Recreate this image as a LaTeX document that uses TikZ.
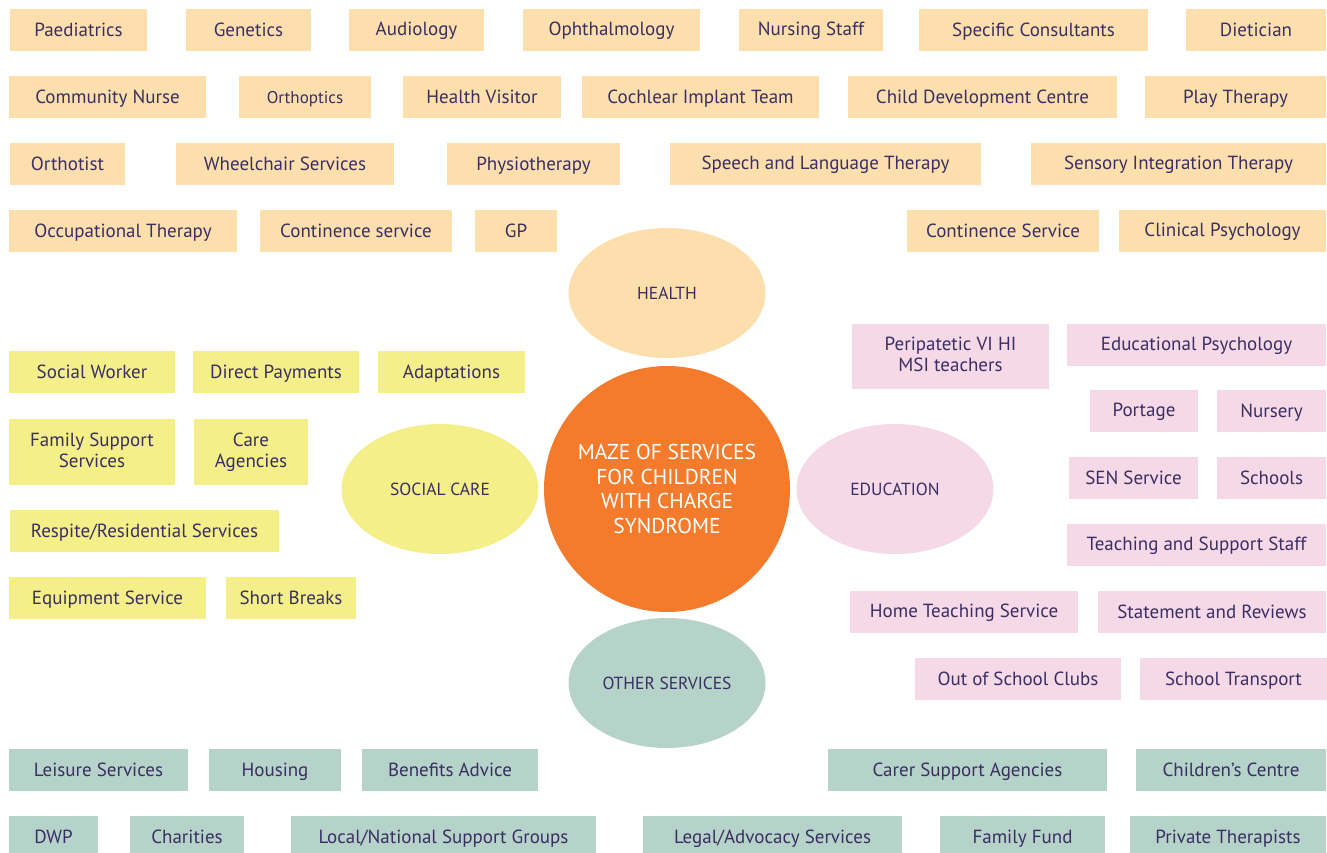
\documentclass[tikz,border=0pt]{standalone}
\usepackage{fontspec}
\setmainfont{PT Sans}
\usetikzlibrary{shapes.geometric}

\definecolor{ink}{HTML}{3A2E63}
\definecolor{healthc}{HTML}{FDDFAD}
\definecolor{socialc}{HTML}{F4EF88}
\definecolor{educc}{HTML}{F6D9E7}
\definecolor{otherc}{HTML}{B5D3C9}
\definecolor{hubc}{HTML}{F47B2B}

% fixed line height so every label sits at the same level in its box
\newcommand{\tagstrutA}{\rule[0pt]{0pt}{16pt}}
\newcommand{\tagstrutB}{\rule[-4pt]{0pt}{4pt}}

\tikzset{
  tag/.style={rectangle, inner sep=0pt, text=ink, align=center,
    font=\fontsize{19}{21}\selectfont,
    execute at begin node=\tagstrutA, execute at end node=\tagstrutB},
  healthbox/.style={tag, fill=healthc},
  socialbox/.style={tag, fill=socialc},
  educbox/.style={tag, fill=educc},
  otherbox/.style={tag, fill=otherc},
  sector/.style={ellipse, inner sep=0pt, minimum width=197pt, minimum height=130pt,
    text=ink, font=\fontsize{17.5}{20}\selectfont},
  hub/.style={circle, inner sep=0pt, minimum size=246pt, fill=hubc, text=white,
    align=center, font=\fontsize{21.5}{24.5}\selectfont}
}

% style, name, left, top, right, bottom, text
\newcommand{\tagbox}[7]{%
  \node[#1, minimum width={(#5-#3)*1pt}, minimum height={(#6-#4)*1pt}]
    (#2) at ({(#3+#5)/2},{(#4+#6)/2}) {#7};}

\begin{document}
\begin{tikzpicture}[x=1pt,y=-1pt]
\useasboundingbox (0,0) rectangle (1327,852);

% ---- Health ----
\tagbox{healthbox}{paed}{10}{9}{147}{51}{Paediatrics}
\tagbox{healthbox}{gen}{186}{9}{311}{51}{Genetics}
\tagbox{healthbox}{aud}{349}{9}{484}{51}{Audiology}
\tagbox{healthbox}{oph}{523}{9}{700}{51}{Ophthalmology}
\tagbox{healthbox}{nurs}{739}{9}{883}{51}{Nursing Staff}
\tagbox{healthbox}{cons}{919}{9}{1148}{51}{Specific Consultants}
\tagbox{healthbox}{diet}{1186}{9}{1326}{51}{Dietician}

\tagbox{healthbox}{cnurse}{9}{76}{206}{118}{Community Nurse}
\tagbox{healthbox}{orthop}{239}{76}{371}{118}{\fontsize{17}{21}\selectfont Orthoptics}
\tagbox{healthbox}{hv}{403}{76}{561}{118}{Health Visitor}
\tagbox{healthbox}{cit}{582}{76}{819}{118}{Cochlear Implant Team}
\tagbox{healthbox}{cdc}{848}{76}{1117}{118}{Child Development Centre}
\tagbox{healthbox}{play}{1145}{76}{1326}{118}{Play Therapy}

\tagbox{healthbox}{orthot}{10}{143}{125}{185}{Orthotist}
\tagbox{healthbox}{wheel}{176}{143}{394}{185}{Wheelchair Services}
\tagbox{healthbox}{physio}{447}{143}{620}{185}{Physiotherapy}
\tagbox{healthbox}{salt}{670}{143}{981}{185}{Speech and Language Therapy}
\tagbox{healthbox}{sit}{1031}{143}{1326}{185}{Sensory Integration Therapy}

\tagbox{healthbox}{ot}{9}{210}{237}{252}{Occupational Therapy}
\tagbox{healthbox}{cont}{260}{210}{452}{252}{Continence service}
\tagbox{healthbox}{gp}{475}{210}{557}{252}{GP}
\tagbox{healthbox}{cont2}{907}{210}{1099}{252}{Continence Service}
\tagbox{healthbox}{clin}{1119}{210}{1326}{252}{Clinical Psychology}

% ---- Social care ----
\tagbox{socialbox}{sw}{9}{351}{175}{393}{Social Worker}
\tagbox{socialbox}{dp}{193}{351}{359}{393}{Direct Payments}
\tagbox{socialbox}{adapt}{378}{351}{525}{393}{Adaptations}
\tagbox{socialbox}{fss}{9}{419}{175}{485}{Family Support\\Services}
\tagbox{socialbox}{care}{194}{419}{308}{485}{Care\\Agencies}
\tagbox{socialbox}{resp}{10}{510}{279}{552}{Respite/Residential Services}
\tagbox{socialbox}{equip}{9}{577}{206}{619}{Equipment Service}
\tagbox{socialbox}{short}{226}{577}{356}{619}{Short Breaks}

% ---- Education ----
\tagbox{educbox}{peri}{852}{324}{1049}{389}{Peripatetic VI HI\\MSI teachers}
\tagbox{educbox}{edpsy}{1067}{324}{1326}{366}{Educational Psychology}
\tagbox{educbox}{port}{1090}{390}{1198}{432}{Portage}
\tagbox{educbox}{nurse}{1217}{390}{1326}{432}{Nursery}
\tagbox{educbox}{sen}{1069}{457}{1198}{499}{SEN Service}
\tagbox{educbox}{schools}{1217}{457}{1326}{499}{Schools}
\tagbox{educbox}{tss}{1067}{524}{1326}{566}{Teaching and Support Staff}
\tagbox{educbox}{hts}{850}{591}{1078}{633}{Home Teaching Service}
\tagbox{educbox}{star}{1098}{591}{1326}{633}{Statement and Reviews}
\tagbox{educbox}{oosc}{915}{658}{1121}{700}{Out of School Clubs}
\tagbox{educbox}{trans}{1140}{658}{1327}{700}{School Transport}

% ---- Other services ----
\tagbox{otherbox}{leis}{9}{749}{188}{791}{Leisure Services}
\tagbox{otherbox}{hous}{209}{749}{341}{791}{Housing}
\tagbox{otherbox}{ben}{362}{749}{538}{791}{Benefits Advice}
\tagbox{otherbox}{carer}{828}{749}{1107}{791}{Carer Support Agencies}
\tagbox{otherbox}{child}{1136}{749}{1326}{791}{Children’s Centre}
\tagbox{otherbox}{dwp}{9}{816}{98}{858}{DWP}
\tagbox{otherbox}{char}{130}{816}{244}{858}{Charities}
\tagbox{otherbox}{lnsg}{291}{816}{596}{858}{Local/National Support Groups}
\tagbox{otherbox}{legal}{643}{816}{902}{858}{Legal/Advocacy Services}
\tagbox{otherbox}{ff}{940}{816}{1105}{858}{Family Fund}
\tagbox{otherbox}{pt}{1130}{816}{1326}{858}{Private Therapists}

% ---- Sectors around the hub ----
\node[sector, fill=healthc] (health) at (667,293) {HEALTH};
\node[sector, fill=socialc] (social) at (440,489) {SOCIAL CARE};
\node[sector, fill=educc] (educ) at (895,489) {EDUCATION};
\node[sector, fill=otherc] (other) at (667,683) {OTHER SERVICES};
\node[hub] (maze) at (667,489) {MAZE OF SERVICES\\FOR CHILDREN\\WITH CHARGE\\SYNDROME};
\end{tikzpicture}
\end{document}
